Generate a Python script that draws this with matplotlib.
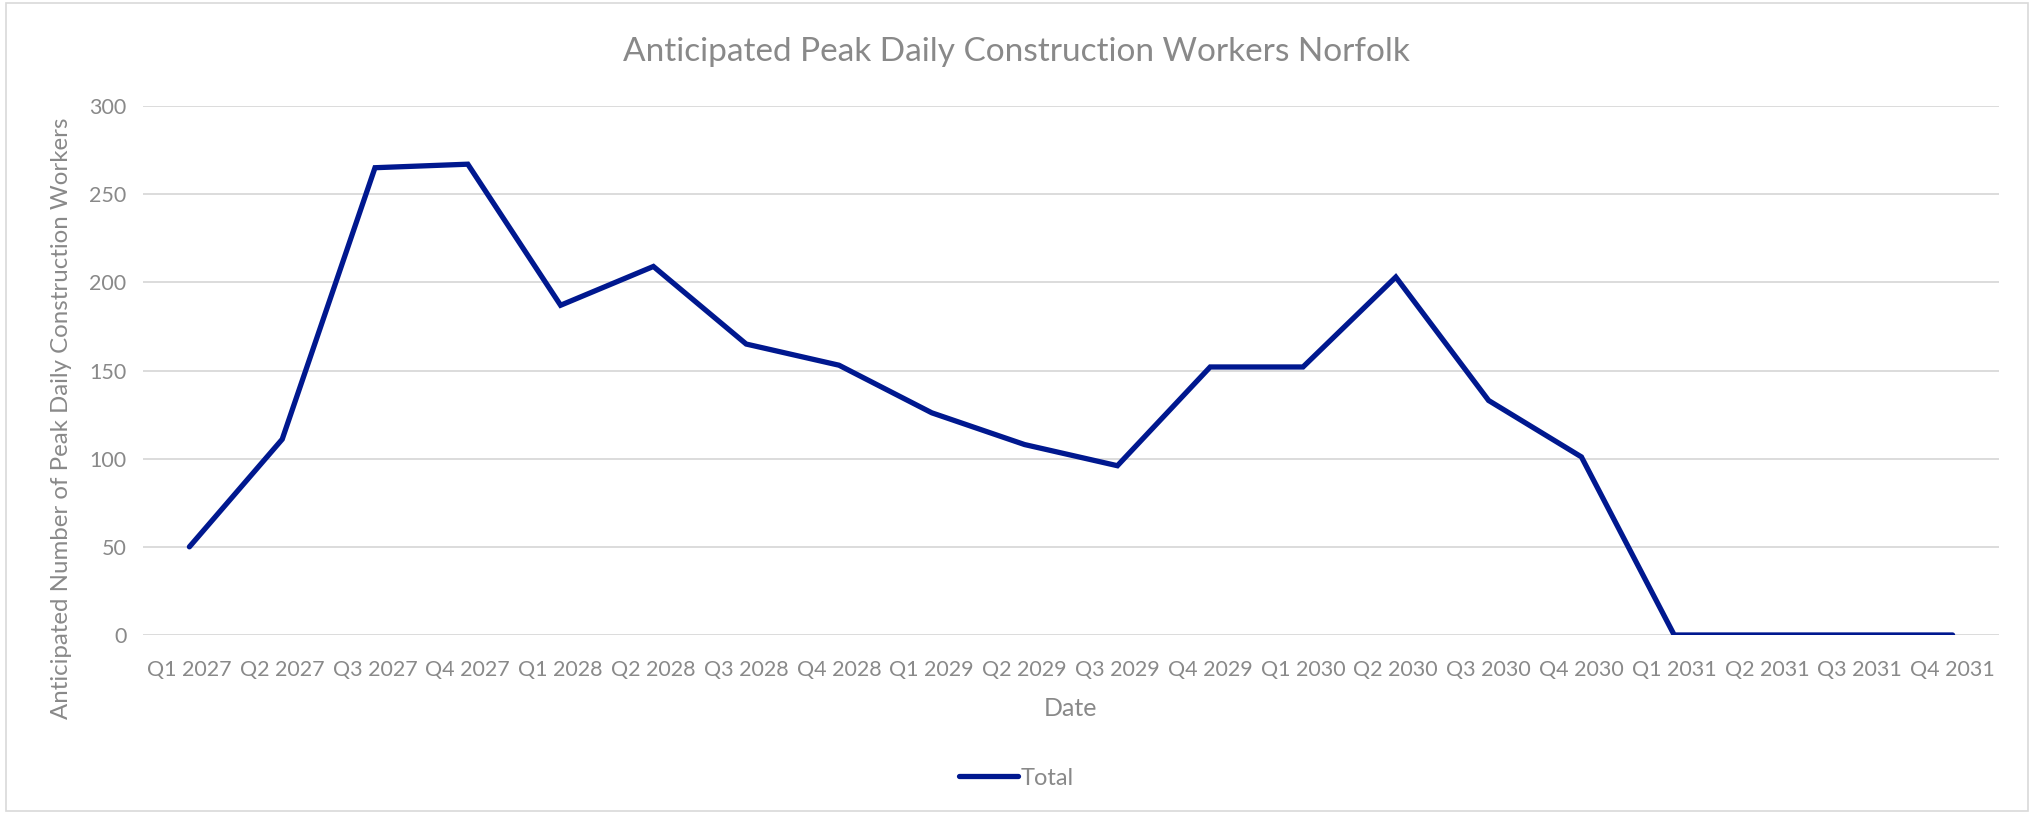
import matplotlib
matplotlib.use("Agg")
import matplotlib.pyplot as plt
from matplotlib.patches import Rectangle

quarters = ["Q1 2027", "Q2 2027", "Q3 2027", "Q4 2027",
            "Q1 2028", "Q2 2028", "Q3 2028", "Q4 2028",
            "Q1 2029", "Q2 2029", "Q3 2029", "Q4 2029",
            "Q1 2030", "Q2 2030", "Q3 2030", "Q4 2030",
            "Q1 2031", "Q2 2031", "Q3 2031", "Q4 2031"]
total = [50, 111, 265, 267, 187, 209, 165, 153, 126, 108,
         96, 152, 152, 203, 133, 101, 0, 0, 0, 0]
y_ticks = [0, 50, 100, 150, 200, 250, 300]

LINE = "#00188F"
TXT = "#898989"
GRID = "#D9D9D9"

plt.rcParams["font.family"] = ["Lato", "DejaVu Sans"]

fig = plt.figure(figsize=(20.33, 8.13), dpi=100)
ax = fig.add_axes([143 / 2033, 1 - 635 / 813, (1999 - 143) / 2033, (635 - 106) / 813])

x = range(len(quarters))
ax.plot(x, total, color=LINE, lw=3.8, solid_joinstyle="miter",
        solid_capstyle="round", label="Total")

ax.set_xlim(-0.5, len(quarters) - 0.5)
ax.set_ylim(0, 300)
ax.set_yticks(y_ticks)
ax.set_xticks(list(x))
ax.set_xticklabels(quarters)
ax.tick_params(axis="both", length=0, colors=TXT, labelsize=15.5)
ax.tick_params(axis="x", pad=18)
ax.tick_params(axis="y", pad=12)
ax.grid(axis="y", color=GRID, lw=1.3)
ax.set_axisbelow(True)
for s in ax.spines.values():
    s.set_visible(False)

ax.set_xlabel("Date", color=TXT, fontsize=18, labelpad=12)
ax.set_ylabel("Anticipated Number of Peak Daily Construction Workers",
              color=TXT, fontsize=17.3)
ax.yaxis.set_label_coords(-0.038, 0.41)
fig.text(0.5, 1 - 52 / 813, "Anticipated Peak Daily Construction Workers Norfolk",
         ha="center", va="center", color=TXT, fontsize=24)

fig.legend(loc="center", bbox_to_anchor=(0.5, 1 - 778 / 813), frameon=False,
           fontsize=17, labelcolor=TXT, handlelength=2.5, handletextpad=0.1)

fig.patches.append(Rectangle((6 / 2033, 2 / 813), 2022 / 2033, 808 / 813,
                             transform=fig.transFigure, fill=False,
                             edgecolor=GRID, lw=1.2))

fig.savefig("out.png")
